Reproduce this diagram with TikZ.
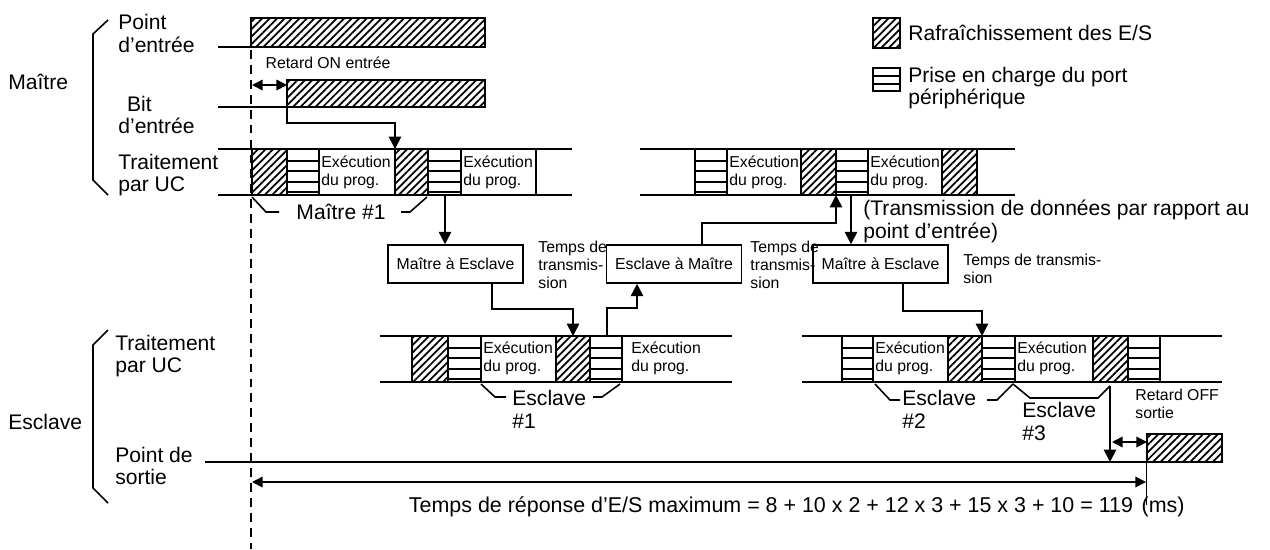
\documentclass[tikz,border=0pt]{standalone}
\usepackage{fontspec}
\setmainfont{Liberation Sans}
\usetikzlibrary{patterns.meta,arrows.meta}

\tikzset{
  rowline/.style={line width=0.9pt},
  hatch/.style={draw,line width=1.1pt,pattern={Lines[angle=45,distance=3pt,line width=1pt]}},
  port/.style={line width=1.3pt},
  conn/.style={line width=0.9pt,-{Triangle[width=7pt,length=7pt]}},
  dbl/.style={line width=0.9pt,{Triangle[width=6pt,length=6pt]}-{Triangle[width=6pt,length=6pt]}},
  lbl/.style={font=\fontsize{12}{13}\selectfont,align=left,inner sep=0pt,anchor=west},
  sml/.style={font=\fontsize{9}{10.2}\selectfont,align=left,inner sep=0pt,anchor=west},
  txbox/.style={draw,line width=0.9pt,minimum width=2.7cm,minimum height=0.76cm,inner sep=0pt,font=\fontsize{9}{10.2}\selectfont},
}

% blocks of a CPU row: x from, x to, top of row
\newcommand{\hatchblk}[3]{\draw[hatch] (#1,#3) rectangle (#2,#3+46);}
\newcommand{\portblk}[3]{%
  \draw[port] (#1,#3) rectangle (#2,#3+46);
  \foreach \d in {12,22,33,43} \draw[port] (#1,#3+\d) -- (#2,#3+\d);}

\begin{document}
\begin{tikzpicture}[x=0.02cm,y=-0.02cm]
        \useasboundingbox (0,0) rectangle (1270,549);

        % Left brackets and labels
        \draw[rowline] (108,20) -- (93,34) -- (93,180) -- (108,195);
        \draw[rowline] (108,330) -- (93,345) -- (93,488) -- (108,503);
        \node[lbl] (maitre) at (8,82) {Maître};
        \node[lbl] (esclave) at (8,422) {Esclave};
        \node[lbl] (inpt) at (118,33.5) {Point\\d’entrée};
        \node[lbl] (bit) at (118,115) {\hspace*{5pt}Bit\\d’entrée};
        \node[lbl] (mcpu) at (118,175) {Traitement\\par UC};
        \node[lbl] (scpu) at (115,356) {Traitement\\par UC};
        \node[lbl] (outpt) at (115,466) {Point de\\sortie};

        % Legend
        \draw[hatch] (873,18) rectangle (900,48);
        \node[lbl] (lg1) at (908,33) {Rafraîchissement des E/S};
        \draw[port] (873,68) rectangle (900,91);
        \draw[port] (873,76) -- (900,76) (873,84) -- (900,84);
        \node[lbl] (lg2) at (908,88) {Prise en charge du port\\périphérique};

        % Time origin
        \draw[line width=0.6pt,dash pattern=on 5pt off 3.5pt] (251,50) -- (251,549);

        % Input point and input bit
        \draw[rowline] (218,47) -- (251,47);
        \draw[hatch] (251,18) rectangle (485,47);
        \node[sml,anchor=center] (ron) at (328,63) {Retard ON entrée};
        \draw[dbl] (252,85) -- (287,85);
        \draw[rowline] (218,107) -- (287,107);
        \draw[hatch] (287,80) rectangle (485,107);
        \coordinate (bitup) at (287,107);
        \coordinate (m0) at (395,149);
        \draw[conn] (bitup) -- ++(0,16) -| (m0);

        % Master CPU, first part
        \draw[rowline] (218,149) -- (572,149) (218,195) -- (572,195);
        \hatchblk{252}{287}{149}
        \portblk{287}{319}{149}
        \node[sml] (mx1) at (321,172) {Exécution\\du prog.};
        \hatchblk{395}{428}{149}
        \portblk{428}{461}{149}
        \node[sml] (mx2) at (463,172) {Exécution\\du prog.};
        \draw[rowline] (536,149) -- (536,195);
        \draw[rowline] (252,197) -- (266,212) -- (279,212);
        \draw[rowline] (401,212) -- (410,212) -- (427,197);
        \node[lbl,anchor=center] (m1lbl) at (341,212) {Maître \#1};

        % Master CPU, second part
        \draw[rowline] (640,149) -- (1015,149) (640,195) -- (1015,195);
        \portblk{695}{727}{149}
        \node[sml] (mx3) at (729,172) {Exécution\\du prog.};
        \hatchblk{801}{836}{149}
        \portblk{836}{868}{149}
        \node[sml] (mx4) at (870,172) {Exécution\\du prog.};
        \hatchblk{942}{977}{149}

        % Transmission boxes
        \node[txbox] (me1) at (455.5,264) {Maître à Esclave};
        \node[txbox] (em1) at (674,264) {Esclave à Maître};
        \node[txbox] (me2) at (880.5,264) {Maître à Esclave};
        \node[sml] (tt1) at (538,265) {Temps de\\transmis-\\sion};
        \node[sml] (tt2) at (750,265) {Temps de\\transmis-\\sion};
        \node[sml] (tt3) at (963,269) {Temps de transmis-\\sion};
        \node[lbl] (tnote) at (863,221.5) {(Transmission de données par rapport au\\point d’entrée)};

        % Slave CPU, first part
        \draw[rowline] (380,336) -- (732,336) (380,382) -- (732,382);
        \hatchblk{412}{448}{336}
        \portblk{448}{481}{336}
        \node[sml] (sx1) at (483,358) {Exécution\\du prog.};
        \hatchblk{556}{590}{336}
        \portblk{590}{622}{336}
        \node[sml] (sx2) at (631,358) {Exécution\\du prog.};
        \draw[rowline] (481,384) -- (495,397) -- (506,397);
        \draw[rowline] (593,397) -- (602,397) -- (620,384);
        \node[lbl] (s1lbl) at (512,409) {Esclave\\\#1};

        % Slave CPU, second part
        \draw[rowline] (802,336) -- (1222,336) (802,382) -- (1222,382);
        \portblk{842}{873}{336}
        \node[sml] (sx3) at (875,358) {Exécution\\du prog.};
        \hatchblk{948}{982}{336}
        \portblk{982}{1015}{336}
        \node[sml] (sx4) at (1017,358) {Exécution\\du prog.};
        \hatchblk{1093}{1128}{336}
        \portblk{1128}{1160}{336}
        \draw[rowline] (875,384) -- (890,400) -- (900,400);
        \draw[rowline] (987,400) -- (997,400) -- (1013,384);
        \node[lbl] (s2lbl) at (902,409) {Esclave\\\#2};
        \draw[rowline] (1013,384) -- (1030,398) -- (1098,398) -- (1110,386);
        \node[lbl] (s3lbl) at (1022,421.5) {Esclave\\\#3};

        % Data flow
        \coordinate (m1out) at (445,195);
        \draw[conn] (m1out) -- (m1out |- me1.north);
        \coordinate (s1in) at (573,336);
        \draw[conn] ([xshift=0.73cm]me1.south) -- ++(0,25) -| (s1in);
        \coordinate (s1out) at (607,336);
        \draw[conn] (s1out) -- ++(0,-28) -| ([xshift=-0.74cm]em1.south);
        \coordinate (m2in) at (836,195);
        \draw[conn] ([xshift=0.56cm]em1.north) -- ++(0,-21) -| (m2in);
        \coordinate (m2out) at (851,195);
        \draw[conn] (m2out) -- (m2out |- me2.north);
        \coordinate (s2in) at (982,336);
        \draw[conn] ([xshift=0.45cm]me2.south) -- ++(0,27) -| (s2in);

        % Output point
        \coordinate (outfall) at (1110,462);
        \draw[conn] (1110,386) -- (outfall);
        \draw[rowline] (205,462) -- (1147,462);
        \draw[hatch] (1147,434) rectangle (1222,462);
        \draw[dbl] (1112,442) -- (1147,442);
        \node[sml] (roff) at (1135,404) {Retard OFF\\sortie};

        % Response time
        \draw[line width=0.5pt] (1146,462) -- (1146,505);
        \draw[dbl] (252,482) -- (1146,482);
        \node[lbl,anchor=east,font=\fontsize{12.2}{13}\selectfont] (resp) at (1185,507) {Temps de réponse d’E/S maximum = 8 + 10 x 2 + 12 x 3 + 15 x 3 + 10 = 119\hspace{5pt}(ms)};
\end{tikzpicture}
\end{document}
